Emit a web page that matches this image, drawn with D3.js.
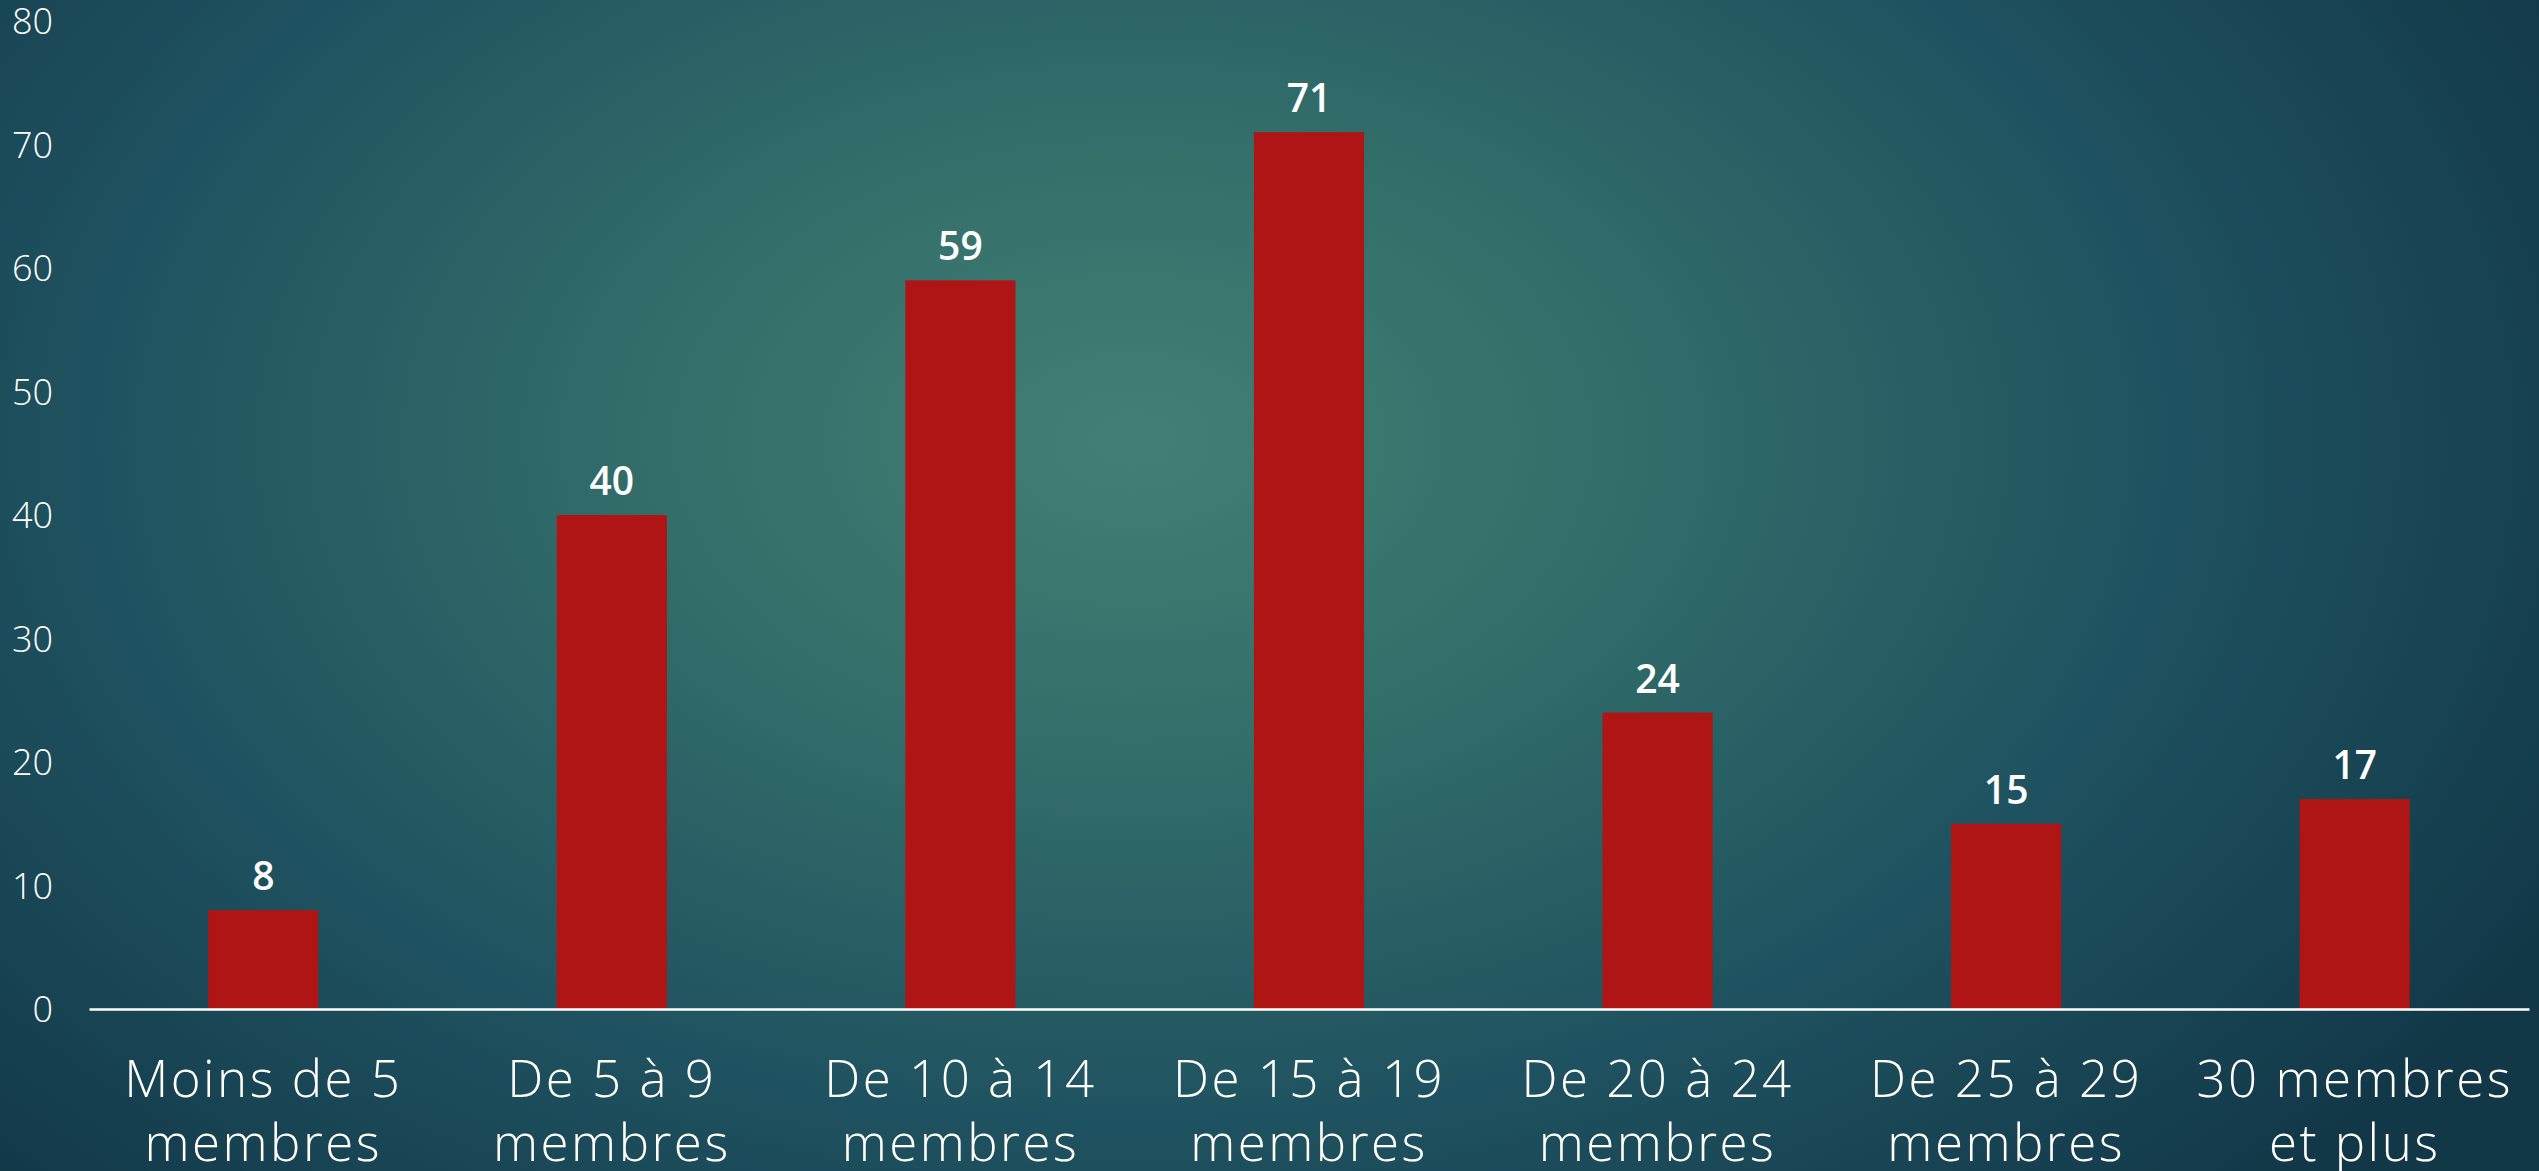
<!DOCTYPE html>
<html>
<head>
<meta charset="utf-8">
<script src="https://cdn.jsdelivr.net/npm/d3@7"></script>
<style>
  html, body { margin: 0; padding: 0; overflow: hidden; background: #133b4a; }
  svg { display: block; }
</style>
</head>
<body>
<svg id="chart" width="2539" height="1171"></svg>
<script>
const categories = [
  ["Moins de 5", "membres"],
  ["De 5 à 9", "membres"],
  ["De 10 à 14", "membres"],
  ["De 15 à 19", "membres"],
  ["De 20 à 24", "membres"],
  ["De 25 à 29", "membres"],
  ["30 membres", "et plus"]
];
const values = [8, 40, 59, 71, 24, 15, 17];
const yTicks = [0, 10, 20, 30, 40, 50, 60, 70, 80];

const W = 2539, H = 1171;
const svg = d3.select("#chart");

// background
const defs = svg.append("defs");
const grad = defs.append("radialGradient")
  .attr("id", "bg")
  .attr("gradientUnits", "userSpaceOnUse")
  .attr("cx", 1133).attr("cy", 440).attr("r", 1000)
  .attr("gradientTransform", "translate(1133,440) scale(1.6,1.05) translate(-1133,-440)");
[[0, "#437f74"], [0.3, "#336e6a"], [0.65, "#1f5260"], [1, "#123848"]]
  .forEach(([o, c]) => grad.append("stop").attr("offset", o).attr("stop-color", c));
svg.append("rect").attr("width", W).attr("height", H).attr("fill", "url(#bg)");

const x = d3.scaleBand()
  .domain(d3.range(categories.length))
  .range([89, 2529])
  .paddingInner(0.684)
  .paddingOuter(0.342);

const y = d3.scaleLinear().domain([0, 80]).range([1009, 21]);

// y axis labels
const yAxis = d3.axisLeft(y).tickValues(yTicks).tickSize(0).tickPadding(0);
const gy = svg.append("g").attr("transform", "translate(53,0)").call(yAxis);
gy.select(".domain").remove();
gy.selectAll("text")
  .attr("fill", "#ffffff")
  .attr("font-family", "'Open Sans', 'Noto Sans', sans-serif")
  .attr("font-weight", 300)
  .attr("font-size", 36)
  .attr("dy", "0.35em");

// bars
svg.append("g").selectAll("rect")
  .data(values)
  .join("rect")
  .attr("x", (d, i) => x(i))
  .attr("width", x.bandwidth())
  .attr("y", d => y(d))
  .attr("height", d => y(0) - y(d))
  .attr("fill", "#b01515");

// baseline
const xAxis = d3.axisBottom(x).tickSize(0).tickFormat("");
const gx = svg.append("g").attr("transform", `translate(0,${y(0)})`).call(xAxis);
gx.select(".domain").attr("stroke", "#ffffff").attr("stroke-width", 2.5);

// value labels
svg.append("g").selectAll("text")
  .data(values)
  .join("text")
  .attr("x", (d, i) => x(i) + x.bandwidth() / 2)
  .attr("y", d => y(d) - 20)
  .attr("text-anchor", "middle")
  .attr("fill", "#ffffff")
  .attr("font-family", "'Open Sans', 'Noto Sans', sans-serif")
  .attr("font-weight", 600)
  .attr("font-size", 39)
  .text(d => d);

// category labels
const cat = svg.append("g").selectAll("text")
  .data(categories)
  .join("text")
  .attr("x", (d, i) => x(i) + x.bandwidth() / 2)
  .attr("y", 1097)
  .attr("text-anchor", "middle")
  .attr("fill", "#ffffff")
  .attr("font-family", "'Open Sans', 'Noto Sans', sans-serif")
  .attr("font-weight", 300)
  .attr("font-size", 51)
  .attr("letter-spacing", "2.5px");
cat.selectAll("tspan")
  .data(d => d)
  .join("tspan")
  .attr("x", function() { return d3.select(this.parentNode).attr("x"); })
  .attr("dy", (d, j) => j === 0 ? 0 : 64)
  .text(d => d);
</script>
</body>
</html>
